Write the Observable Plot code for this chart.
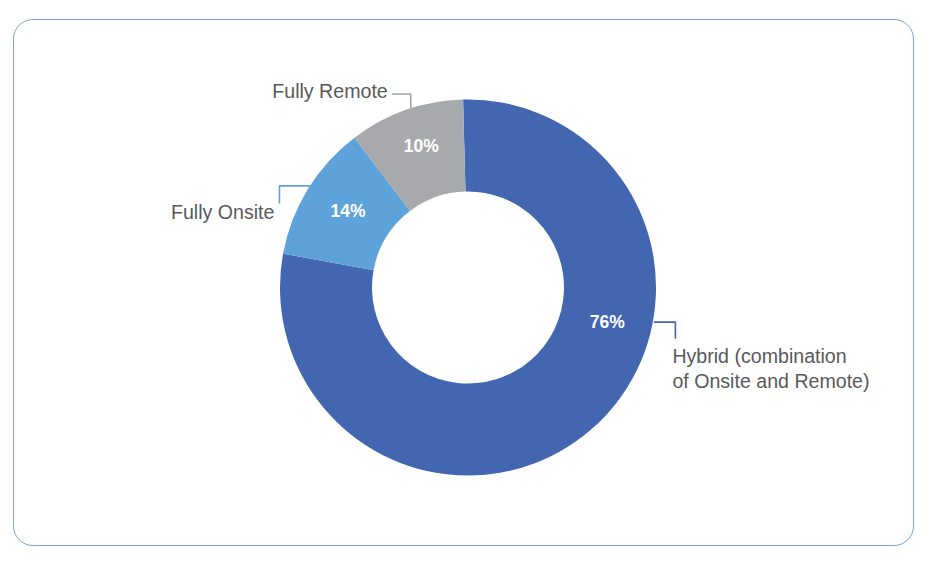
<!DOCTYPE html>
<html>
<head>
<meta charset="utf-8">
<script src="https://cdn.jsdelivr.net/npm/d3@7"></script>
<script src="https://cdn.jsdelivr.net/npm/@observablehq/plot@0.6"></script>
<style>
  html, body { margin: 0; padding: 0; background: #fff; }
  #wrap { position: relative; width: 936px; height: 570px; }
  #card { position: absolute; left: 13px; top: 19px; width: 899px; height: 525px;
          border: 1.5px solid #7BA3D8; border-radius: 20px; box-sizing: content-box; }
  #chart { position: absolute; left: 0; top: 0; }
</style>
</head>
<body>
<div id="wrap"><div id="card"></div><div id="chart"></div></div>
<script>
// ---- data ----
const categories = ["Hybrid", "Fully Onsite", "Fully Remote"];
const labels = ["Hybrid (combination\nof Onsite and Remote)", "Fully Onsite", "Fully Remote"];
// slice sizes as drawn in the picture (share of the ring)
const sliceValues = [78.3, 11.8, 9.9];
// printed percentages
const valueLabels = ["76%", "14%", "10%"];
const colors = ["#4366B0", "#5DA3DA", "#A7A9AC"];
const leaderColors = ["#4366B0", "#5DA3DA", "#A0A2A5"];

// ---- layout ----
const W = 936, H = 570;
const cx = 468, cy = 287.5, R = 188, r0 = 96;
const deg = Math.PI / 180;
const startDeg = -1.5;
// percent label placement (angle from 12 o'clock, clockwise; radius)
const pctPlace = [{a: 104, r: 143}, {a: 302.6, r: 143}, {a: 341.5, r: 149}];
// leader: anchor angle on outer edge; legs
const leaderPlace = [
  {a: 100.4, legs: [[21, 0], [0, 16]]},
  {a: 302.7, legs: [[-30, 0], [0, 17]]},
  {a: 342.2, legs: [[0, -14], [-18, 0]]}
];

const pie = d3.pie().sort(null).value(d => d)
  .startAngle(startDeg * deg).endAngle((startDeg + 360) * deg)(sliceValues);
const polar = (a, rad) => [cx + rad * Math.sin(a * deg), cy - rad * Math.cos(a * deg)];

const leaderPts = [];
const leaderEnds = [];
leaderPlace.forEach((l, i) => {
  let [x, y] = polar(l.a, R + 1);
  leaderPts.push({k: categories[i], x, y});
  for (const [dx, dy] of l.legs) { x += dx; y += dy; leaderPts.push({k: categories[i], x, y}); }
  leaderEnds.push([x, y]);
});

const startText = [
  {t: labels[0], x: leaderEnds[0][0] - 3, y: leaderEnds[0][1] + 7}
];
const endText = [
  {t: labels[1], x: leaderEnds[1][0] - 5, y: leaderEnds[1][1] + 10},
  {t: labels[2], x: leaderEnds[2][0] - 5, y: leaderEnds[2][1] - 2}
];

const pctData = pie.map((p, i) => {
  const [x, y] = polar(pctPlace[i].a, pctPlace[i].r);
  return {t: valueLabels[i], x, y};
});

const arcGen = d3.arc().innerRadius(r0).outerRadius(R);

const donutMark = (index, scales) => {
  const g = d3.create("svg:g");
  g.selectAll("path").data(pie).join("path")
    .attr("transform", `translate(${scales.x(cx)},${scales.y(cy)})`)
    .attr("d", arcGen)
    .attr("fill", (d, i) => colors[i]);
  return g.node();
};

const plot = Plot.plot({
  width: W, height: H,
  margin: 0,
  x: {domain: [0, W], range: [0, W], axis: null},
  y: {domain: [0, H], range: [0, H], axis: null},
  style: {fontFamily: "'Liberation Sans', Arial, sans-serif", background: "transparent"},
  marks: [
    donutMark,
    Plot.line(leaderPts, {x: "x", y: "y", z: "k", stroke: d => leaderColors[categories.indexOf(d.k)], strokeWidth: 1.6}),
    Plot.text(startText, {x: "x", y: "y", text: "t", textAnchor: "start", lineAnchor: "top",
      fontSize: 19.6, fill: "#58595B", lineHeight: 1.27}),
    Plot.text(endText, {x: "x", y: "y", text: "t", textAnchor: "end",
      fontSize: 19.6, fill: "#58595B"}),
    Plot.text(pctData, {x: "x", y: "y", text: "t", fontSize: 17.5, fontWeight: "bold", fill: "#fff"})
  ]
});
document.getElementById("chart").appendChild(plot);
</script>
</body>
</html>
